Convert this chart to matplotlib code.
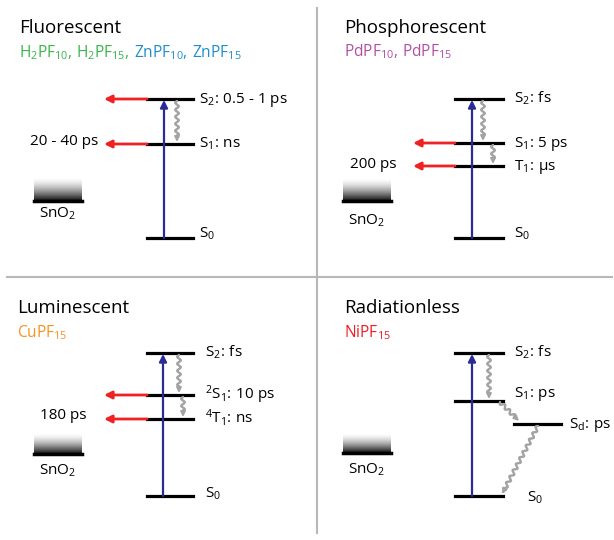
import numpy as np
import matplotlib
matplotlib.use("Agg")
import matplotlib.pyplot as plt

plt.rcParams['font.family'] = ['Open Sans', 'DejaVu Sans']
plt.rcParams['mathtext.default'] = 'regular'

# ---------------- data ----------------
titles = ["Fluorescent", "Phosphorescent", "Luminescent", "Radiationless"]

fl_compounds = ["H$_2$PF$_{10}$,", " H$_2$PF$_{15}$,", " ZnPF$_{10}$,", " ZnPF$_{15}$"]
ph_compounds = ["PdPF$_{10}$,", " PdPF$_{15}$"]
lu_compounds = ["CuPF$_{15}$"]
ra_compounds = ["NiPF$_{15}$"]

SP = r"$\ $"
# energy levels (drawing units, larger = lower on page), ground state first
fl_levels = [238, 144, 99]
fl_names = ["S$_0$", "S$_1$:" + SP + "ns", "S$_2$:" + SP + "0.5 - 1 ps"]
ph_levels = [238, 166, 143, 99]
ph_names = ["S$_0$", "T$_1$:" + SP + "µs", "S$_1$:" + SP + "5 ps", "S$_2$:" + SP + "fs"]
lu_levels = [496, 419, 395, 353]
lu_names = ["S$_0$", "$^4$T$_1$:" + SP + "ns", "$^2$S$_1$:" + SP + "10 ps", "S$_2$:" + SP + "fs"]
ra_levels = [496, 424, 401, 353]
ra_names = ["S$_0$", "S$_d$:" + SP + "ps", "S$_1$:" + SP + "ps", "S$_2$:" + SP + "fs"]

# electron injection into SnO2 (level indices) and injection times
fl_inject = [1, 2]
ph_inject = [1, 2]
lu_inject = [1, 2]
ra_inject = []
inject_times = ["20 - 40 ps", "200 ps", "180 ps", ""]

# non-radiative relaxations (from level, to level)
fl_relax = [(2, 1)]
ph_relax = [(3, 2), (2, 1)]
lu_relax = [(3, 2), (2, 1)]
ra_relax = [(3, 2), (2, 1), (1, 0)]

# ---------------- style ----------------
GREEN = "#39b54a"
BLUE_T = "#1f8dcb"
PURPLE = "#b24fa3"
ORANGE = "#f7931e"
REDT = "#ed1c24"
ARROW_BLUE = "#2b2b96"
ARROW_RED = "#ee2222"
GRAY = "#a3a3a3"
DIV = "#b8b8b8"

FS_TITLE = 13.5
FS_SUB = 11.2
FS_LAB = 11

fig = plt.figure(figsize=(6.14, 5.40), dpi=100)
ax = fig.add_axes([0, 0, 1, 1])
ax.set_xlim(0, 614)
ax.set_ylim(540, 0)
ax.axis("off")

# dividers
ax.plot([7, 612], [277, 277], color=DIV, lw=1.5)
ax.plot([317, 317], [8, 533], color=DIV, lw=1.5)


def wavy(x0, y0, x1, y1, amp=1.8, period=7.0, head=6.0):
    dx, dy = x1 - x0, y1 - y0
    L = np.hypot(dx, dy)
    ux, uy = dx / L, dy / L
    px, py = -uy, ux
    t = np.linspace(0, L - head, 300)
    off = amp * np.sin(2 * np.pi * t / period)
    xs = x0 + ux * t + px * off
    ys = y0 + uy * t + py * off
    ax.plot(xs, ys, color=GRAY, lw=1.7, solid_capstyle="round")
    ax.annotate("", xy=(x1, y1), xytext=(x1 - ux * (head + 1), y1 - uy * (head + 1)),
                arrowprops=dict(arrowstyle="-|>", color=GRAY, lw=1.4,
                                mutation_scale=7, shrinkA=0, shrinkB=0))


def colored_line(x, y, parts, colors, size):
    t = ax.text(x, y, parts[0], color=colors[0], fontsize=size, va="baseline", ha="left")
    for p, c in zip(parts[1:], colors[1:]):
        t = ax.annotate(p, xy=(1, 0), xycoords=t, color=c, fontsize=size,
                        va="bottom", ha="left")


def sno2(x0, x1, ytop, ybot, label_y):
    grad = np.linspace(0, 1, 64).reshape(-1, 1) ** 1.6
    ax.imshow(grad, cmap="gray_r", vmin=0, vmax=1.05, aspect="auto",
              extent=(x0, x1, ybot, ytop), origin="upper", interpolation="bilinear")
    ax.plot([x0, x1], [ybot, ybot], color="black", lw=2.5)
    ax.text((x0 + x1) / 2, label_y, "SnO$_2$", fontsize=FS_LAB, ha="center", va="baseline")


panels = [
    dict(levels=fl_levels, names=fl_names, inject=fl_inject, relax=fl_relax,
         title_xy=(19, 33), comp=fl_compounds, comp_col=[GREEN, GREEN, BLUE_T, BLUE_T],
         comp_y=57, lx=(147, 193), bx=164, labx=199,
         wx=[177], time_xy=(98, 145), sno=(34, 82, 177, 201, 218),
         lab_dy=[0, 4, 4], arrow_end=104),
    dict(levels=ph_levels, names=ph_names, inject=ph_inject, relax=ph_relax,
         title_xy=(344, 33), comp=ph_compounds, comp_col=[PURPLE, PURPLE],
         comp_y=56, lx=(455, 503), bx=472, labx=514,
         wx=[483, 493], time_xy=(397, 168), sno=(343, 391, 178, 201, 225),
         lab_dy=[0, 4, 4, 4], arrow_end=413),
    dict(levels=lu_levels, names=lu_names, inject=lu_inject, relax=lu_relax,
         title_xy=(17, 313), comp=lu_compounds, comp_col=[ORANGE],
         comp_y=337, lx=(147, 193), bx=163, labx=205,
         wx=[179, 183], time_xy=(87, 419), sno=(34, 82, 433, 454, 475),
         lab_dy=[2, 4, 4, 4], arrow_end=104),
    dict(levels=ra_levels, names=ra_names, inject=ra_inject, relax=ra_relax,
         title_xy=(344, 313), comp=ra_compounds, comp_col=[REDT],
         comp_y=337, lx=(455, 503), bx=472, labx=514,
         wx=[489], time_xy=None, sno=(343, 391, 433, 453, 474),
         lab_dy=[6, 4, -4, 4], arrow_end=413),
]

for i, p in enumerate(panels):
    tx, ty = p["title_xy"]
    ax.text(tx, ty, titles[i], fontsize=FS_TITLE, va="baseline", ha="left")
    colored_line(tx, p["comp_y"], p["comp"], p["comp_col"], FS_SUB)

    lv = p["levels"]
    x0, x1 = p["lx"]
    for j, (y, name) in enumerate(zip(lv, p["names"])):
        if i == 3 and j == 1:  # dark state shifted right
            ax.plot([514, 561], [y, y], color="black", lw=2.3)
            ax.text(569, y + 4, name, fontsize=FS_LAB, va="baseline", ha="left")
            continue
        ax.plot([x0, x1], [y, y], color="black", lw=2.3)
        lx = p["labx"] if not (i == 3 and j == 0) else 527
        ax.text(lx, y + p["lab_dy"][j], name, fontsize=FS_LAB, va="baseline", ha="left")

    # excitation
    ax.annotate("", xy=(p["bx"], lv[-1] + 1), xytext=(p["bx"], lv[0]),
                arrowprops=dict(arrowstyle="-|>", color=ARROW_BLUE, lw=1.6,
                                mutation_scale=11, shrinkA=0, shrinkB=0))

    # injection
    for j in p["inject"]:
        ax.annotate("", xy=(p["arrow_end"], lv[j]), xytext=(x0, lv[j]),
                    arrowprops=dict(arrowstyle="-|>", color=ARROW_RED, lw=2.0,
                                    mutation_scale=11, shrinkA=0, shrinkB=0))
    if p["time_xy"] is not None:
        ax.text(p["time_xy"][0], p["time_xy"][1], inject_times[i], fontsize=FS_LAB,
                ha="right", va="baseline")

    # relaxations
    for k, (a, b) in enumerate(p["relax"]):
        if i == 3 and k == 1:
            wavy(500, lv[a] + 1, 519, lv[b] - 3)
        elif i == 3 and k == 2:
            wavy(538, lv[a] + 2, 502, lv[b] - 2)
        else:
            wx = p["wx"][k]
            wavy(wx, lv[a] + 2, wx, lv[b] - 2)

    sno2(*p["sno"])

ax.set_xlim(0, 614)
ax.set_ylim(540, 0)
fig.savefig("out.png", dpi=100)
